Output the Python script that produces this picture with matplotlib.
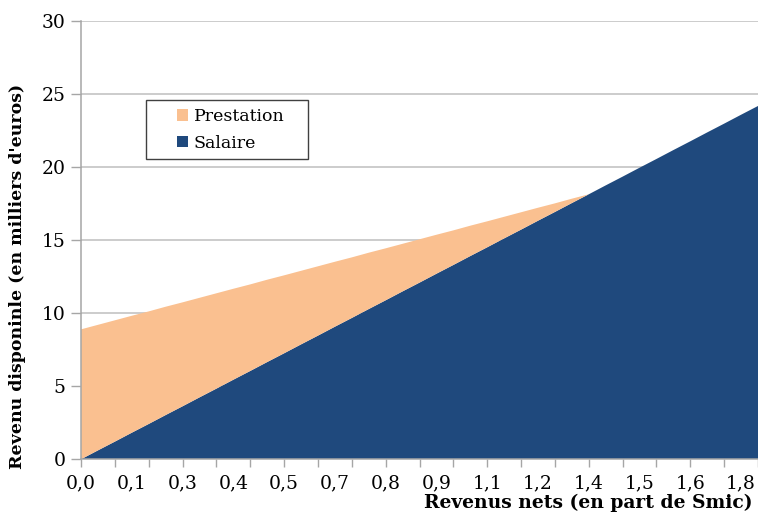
import matplotlib
matplotlib.use("Agg")
import matplotlib.pyplot as plt
from matplotlib.patches import Patch, Rectangle

# categories: revenus nets en part de Smic (pas de 0,045)
n_cat = 41
tick_labels = ["0,0", "0,1", "0,3", "0,4", "0,5", "0,7", "0,8",
               "0,9", "1,1", "1,2", "1,4", "1,5", "1,6", "1,8"]

# milliers d'euros
salaire = [0.00, 0.61, 1.21, 1.82, 2.42, 3.03, 3.63, 4.24, 4.84, 5.45,
           6.05, 6.66, 7.26, 7.87, 8.47, 9.08, 9.68, 10.29, 10.89, 11.50,
           12.10, 12.71, 13.31, 13.92, 14.52, 15.13, 15.73, 16.34, 16.94, 17.55,
           18.15, 18.76, 19.36, 19.97, 20.57, 21.18, 21.78, 22.39, 22.99, 23.60,
           24.20]
prestation = [8.90, 8.60, 8.31, 8.01, 7.71, 7.42, 7.12, 6.82, 6.53, 6.23,
              5.93, 5.64, 5.34, 5.04, 4.75, 4.45, 4.15, 3.86, 3.56, 3.26,
              2.97, 2.67, 2.37, 2.08, 1.78, 1.48, 1.19, 0.89, 0.59, 0.30,
              0.00, 0.00, 0.00, 0.00, 0.00, 0.00, 0.00, 0.00, 0.00, 0.00,
              0.00]

C_SAL = "#1F497D"
C_PRE = "#FAC090"
GRID = "#BFBFBF"
AXIS = "#A6A6A6"

plt.rcParams['font.family'] = ['DejaVu Serif']

W, H = 758, 515
fig = plt.figure(figsize=(W / 100, H / 100), dpi=100)
ax = fig.add_axes([81 / W, 55.7 / H, 1 - 81 / W, 438 / H])

idx = list(range(n_cat))
ax.stackplot(idx, salaire, prestation, colors=[C_SAL, C_PRE], linewidth=0)

ax.set_ylim(0, 30)
ax.set_xlim(0, 39.8)
ax.set_yticks([0, 5, 10, 15, 20, 25, 30])
ax.yaxis.grid(True, color=GRID, linewidth=1.1)
ax.set_axisbelow(True)

# labels every 3 categories, tick marks every 2
ax.xaxis.remove_overlapping_locs = False
ax.set_xticks(list(range(0, n_cat, 3)))
ax.set_xticklabels(tick_labels)
ax.set_xticks(list(range(0, n_cat, 2)), minor=True)
ax.tick_params(axis='x', which='minor', length=6, color=AXIS, width=1)
ax.tick_params(axis='x', which='major', length=0, pad=11, labelsize=13.5)
ax.tick_params(axis='y', length=7, color=AXIS, width=1, labelsize=13.5, pad=4)

for s in ['top', 'right']:
    ax.spines[s].set_visible(False)
for s in ['left', 'bottom']:
    ax.spines[s].set_color(AXIS)
    ax.spines[s].set_linewidth(1.1)

fig.text(588 / W, 1 - 503 / H, "Revenus nets (en part de Smic)",
         ha='center', va='center', fontsize=13.5, fontweight='bold')
fig.text(18 / W, 1 - 276 / H, "Revenu disponinle (en milliers d'euros)",
         ha='center', va='center', rotation=90, fontsize=12.5, fontweight='bold')

# legend box
fig.patches.append(Rectangle((146 / W, 1 - 159 / H), 162 / W, 59 / H,
                             transform=fig.transFigure, facecolor='white',
                             edgecolor='#404040', linewidth=1.0, zorder=5))
handles = [Patch(facecolor=C_PRE, edgecolor='none', label='Prestation'),
           Patch(facecolor=C_SAL, edgecolor='none', label='Salaire')]
leg = fig.legend(handles=handles, loc='center left',
                 bbox_to_anchor=(177 / W, 1 - 130 / H),
                 frameon=False, fontsize=12.5,
                 handlelength=0.65, handleheight=0.65, handletextpad=0.3,
                 labelspacing=0.55, borderpad=0, borderaxespad=0)
leg.set_zorder(6)

fig.savefig("out.png", dpi=100)
